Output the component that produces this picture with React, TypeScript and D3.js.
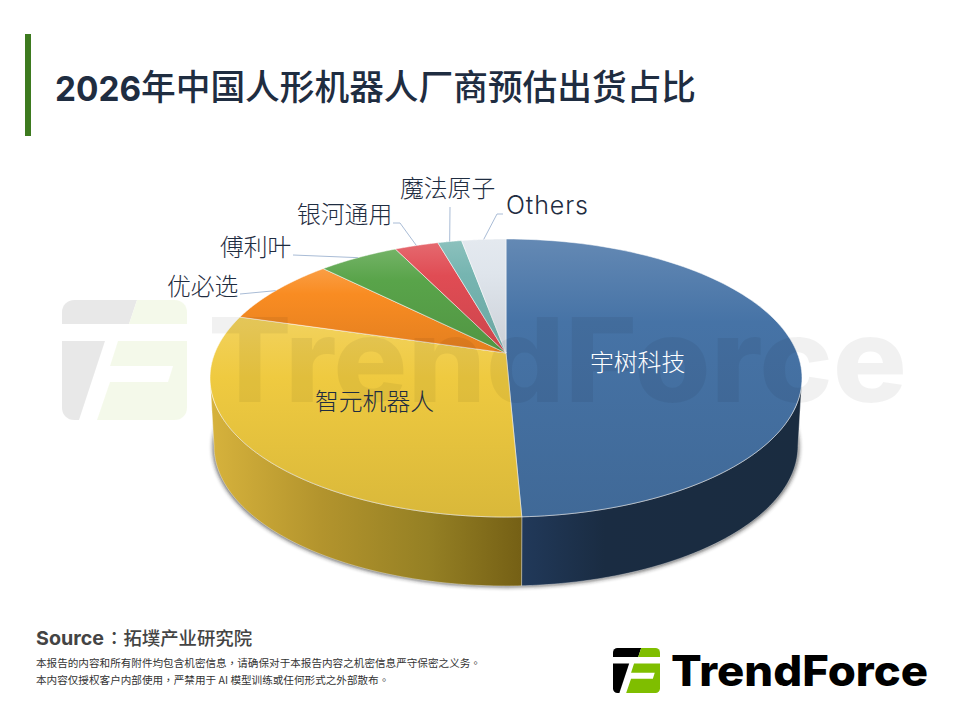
import * as d3 from "d3";

const vendors = ["宇树科技", "智元机器人", "优必选", "傅利叶", "银河通用", "魔法原子", "Others"];
const shares = [49.2, 33.1, 7.2, 4.5, 2.4, 1.3, 2.4];
const sliceColors = ["#4673a6", "#efca40", "#f98c22", "#59a44a", "#e04c54", "#76b5b1", "#dfe5ec"];

const titleYear = "2026";
const titleText = "年中国人形机器人厂商预估出货占比";
const sourceLabel = "Source";
const sourceName = "：拓墣产业研究院";
const noticeLines = [
  "本报告的内容和所有附件均包含机密信息，请确保对于本报告内容之机密信息严守保密之义务。",
  "本内容仅授权客户内部使用，严禁用于 AI 模型训练或任何形式之外部散布。",
];

const CJK = '"Noto Sans CJK SC", sans-serif';
const CJK_TC = '"Noto Sans CJK TC", sans-serif';
const LATIN = 'Inter, "Noto Sans CJK SC", sans-serif';

const cx = 506;
const cy = 378;
const rx = 296;
const ry = 139;
const depth = 68;
const bottomRx = 292;
// the tilted view puts the point where the slices meet above the middle of the rim ellipse
const apexY = 353;

const labelPlaces: Record<string, { x: number; y: number; from?: [number, number][] }> = {
  宇树科技: { x: 590, y: 362 },
  智元机器人: { x: 315, y: 401 },
  优必选: { x: 167, y: 286, from: [[240, 294]] },
  傅利叶: { x: 220, y: 247, from: [[293, 255]] },
  银河通用: { x: 297, y: 214, from: [[393, 223], [400, 223]] },
  魔法原子: { x: 400, y: 188, from: [[450, 207]] },
  Others: { x: 506, y: 205, from: [[503, 214], [497, 214]] },
};

const rim = (a: number, r = rx, ryy = ry, yy = cy): [number, number] => [
  cx + r * Math.sin(a),
  yy - ryy * Math.cos(a),
];

const sweep = (from: number, to: number) => d3.range(0, 121).map((i) => from + ((to - from) * i) / 120);

function wallPath(a0: number, a1: number) {
  const from = Math.max(a0, Math.PI / 2);
  const to = Math.min(a1, (3 * Math.PI) / 2);
  if (to <= from) return null;
  const steps = sweep(from, to);
  const top = steps.map((a) => rim(a));
  const bottom = [...steps].reverse().map((a) => rim(a, bottomRx, ry + 1, cy + depth));
  return d3.line()([...top, ...bottom]) + "Z";
}

function facePath(a0: number, a1: number) {
  const pts: [number, number][] = [[cx, apexY], ...sweep(a0, a1).map((a) => rim(a))];
  return d3.line()(pts) + "Z";
}

function LogoMark({ x, y, k, black, green, opacity }: { x: number; y: number; k: number; black: string; green: string; opacity: number }) {
  return (
    <g transform={`translate(${x},${y}) scale(${k})`} opacity={opacity}>
      <path fill={black} d="M12,0H75L67,24H0V12A12,12 0 0 1 12,0Z" />
      <path fill={black} d="M0,41H43L17,120H12A12,12 0 0 1 0,108Z" />
      <path fill={green} d="M75,0H113A12,12 0 0 1 125,12V24H67Z" />
      <path fill={green} d="M56,41H125V108A12,12 0 0 1 113,120H35L48,82H106L111,66H48Z" />
    </g>
  );
}

export default function App() {
  const pie = d3.pie<number>().sort(null).value((d) => d);
  const arcs = pie(shares);
  const lineGen = d3.line();

  return (
    <svg width={960} height={720} viewBox="0 0 960 720" style={{ position: "absolute", left: 0, top: 0, background: "#fff" }}>
      <defs>
        {sliceColors.map((c, i) => (
          <linearGradient key={i} id={`top${i}`} x1="0" y1="0" x2="0" y2="1">
            <stop offset="0" stopColor={d3.interpolateRgb(c, "#fff")(0.16)} />
            <stop offset="0.3" stopColor={c} />
            <stop offset="1" stopColor={d3.interpolateRgb(c, "#000")(0.09)} />
          </linearGradient>
        ))}
        <linearGradient id="wall0" gradientUnits="userSpaceOnUse" x1={521} y1={0} x2={800} y2={0}>
          <stop offset="0" stopColor="#21395a" />
          <stop offset="0.3" stopColor="#1a2c42" />
          <stop offset="1" stopColor="#1a2c40" />
        </linearGradient>
        <linearGradient id="wall1" gradientUnits="userSpaceOnUse" x1={212} y1={0} x2={521} y2={0}>
          <stop offset="0" stopColor="#d6b23c" />
          <stop offset="0.35" stopColor="#b3942d" />
          <stop offset="0.7" stopColor="#958024" />
          <stop offset="1" stopColor="#756015" />
        </linearGradient>
        <filter id="soft" x="-5%" y="-5%" width="110%" height="110%">
          <feGaussianBlur stdDeviation="2" />
        </filter>
      </defs>

      <rect x={25} y={34} width={6} height={102} fill="#3d7a1f" />
      <text x={55} y={101} fontFamily={LATIN} fontWeight={700} fontSize={34} fill="#1f2d41" textLength={86} lengthAdjust="spacingAndGlyphs">
        {titleYear}
      </text>
      <text x={141} y={100} fontFamily={CJK} fontWeight={500} fontSize={34.7} fill="#1f2d41">
        {titleText}
      </text>

      {/* side wall and its soft shadow */}
      <ellipse cx={cx} cy={cy + depth + 1} rx={bottomRx + 1} ry={ry + 1} fill="#222" opacity={0.75} filter="url(#soft)" />
      {arcs.map((d, i) => {
        const p = wallPath(d.startAngle, d.endAngle);
        return p ? <path key={i} d={p} fill={`url(#wall${i})`} stroke="#fff" strokeOpacity={0.55} strokeWidth={0.7} /> : null;
      })}

      {/* top face */}
      {arcs.map((d, i) => (
        <path key={i} d={facePath(d.startAngle, d.endAngle)} fill={`url(#top${i})`} stroke="#fff" strokeOpacity={0.65} strokeWidth={0.8} />
      ))}

      {/* watermark lies over the pie */}
      <LogoMark x={62} y={300} k={1} black="#000" green="#8fc31f" opacity={0.085} />
      <text x={208} y={402} fontFamily={LATIN} fontWeight={800} fontSize={117} fill="#000" fillOpacity={0.055} textLength={699} lengthAdjust="spacingAndGlyphs">
        TrendForce
      </text>

      {/* leader lines run from the label to the middle of the slice rim */}
      {arcs.map((d, i) => {
        const place = labelPlaces[vendors[i]];
        if (!place.from) return null;
        const pts: [number, number][] = [...place.from, rim((d.startAngle + d.endAngle) / 2)];
        return <path key={i} d={lineGen(pts) as string} fill="none" stroke="#a9bcd6" strokeWidth={1} />;
      })}
      {vendors.map((v, i) => (
        <text
          key={v}
          x={labelPlaces[v].x}
          y={labelPlaces[v].y}
          dy="0.36em"
          fontFamily={v === "Others" ? LATIN : CJK}
          fontWeight={300}
          fontSize={v === "Others" ? 25 : 23.8}
          fill={i === 0 ? "#fff" : "#1f2d41"}
          textLength={v === "Others" ? 82 : undefined}
        >
          {v}
        </text>
      ))}

      <text x={36} y={645} fontFamily={LATIN} fontWeight={700} fontSize={19} fill="#444" textLength={68} lengthAdjust="spacingAndGlyphs">
        {sourceLabel}
      </text>
      <text x={105} y={645} fontFamily={CJK_TC} fontWeight={500} fontSize={18.4} fill="#444">
        {sourceName}
      </text>
      {noticeLines.map((t, i) => (
        <text key={i} x={36} y={667 + i * 17} fontFamily={CJK_TC} fontSize={10.6} fill="#333">
          {t}
        </text>
      ))}

      <LogoMark x={613} y={648} k={0.376} black="#000" green="#7fbe00" opacity={1} />
      <text x={671} y={686} fontFamily={LATIN} fontWeight={800} fontSize={42} fill="#000" textLength={257} lengthAdjust="spacingAndGlyphs">
        TrendForce
      </text>
    </svg>
  );
}
